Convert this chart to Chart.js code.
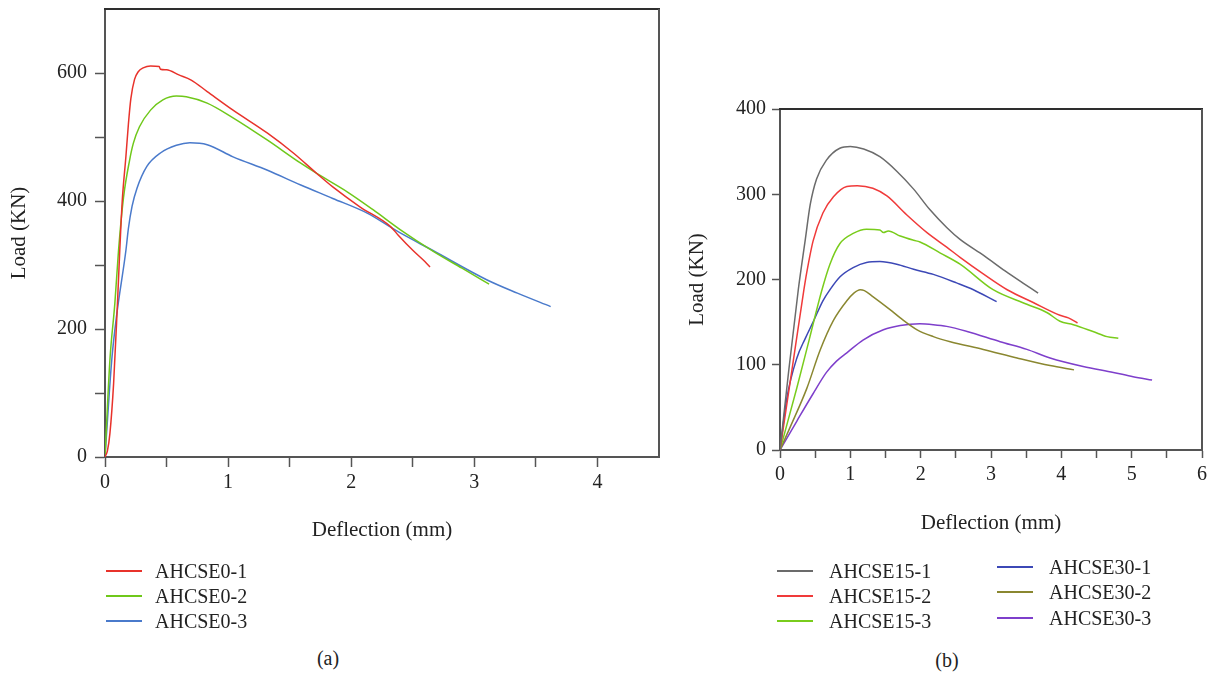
<!DOCTYPE html>
<html>
<head>
<meta charset="utf-8">
<script src="https://cdn.jsdelivr.net/npm/chart.js@4.4.1/dist/chart.umd.min.js"></script>
<style>
  html, body { margin: 0; padding: 0; background: #fff; }
  body { width: 1213px; height: 676px; position: relative; overflow: hidden;
         font-family: "Liberation Serif", "DejaVu Serif", serif; color: #222; }
  canvas { position: absolute; top: 0; }
  #chartA { left: 0; }
  #chartB { left: 680px; }
  .leg { position: absolute; height: 24px; line-height: 24px; font-size: 20px; white-space: nowrap; }
  .leg i { position: absolute; left: 0; top: 11px; height: 2px; }
  .leg span { position: absolute; top: 0; }
  .cap { position: absolute; font-size: 20px; transform: translate(-50%, -50%); }
</style>
</head>
<body>
<canvas id="chartA" width="680" height="560"></canvas>
<canvas id="chartB" width="533" height="560"></canvas>
<div id="legends"></div>
<div class="cap" style="left:328px;top:658px">(a)</div>
<div class="cap" style="left:947px;top:660px">(b)</div>
<script>
const FONT = '"Liberation Serif", "DejaVu Serif", serif';

// ---- Panel (a): specimens without steel fibre content ----
const namesA  = ['AHCSE0-1', 'AHCSE0-2', 'AHCSE0-3'];
const colorsA = ['#e8322b', '#6fc81a', '#4a7acb'];

const deflE0_1 = [0, 0.02, 0.04, 0.07, 0.10, 0.12, 0.14, 0.17, 0.19, 0.21, 0.24, 0.27, 0.31, 0.37, 0.44, 0.45, 0.50, 0.60, 0.70, 0.83, 1.04, 1.32, 1.53, 1.72, 1.85, 2.07, 2.32, 2.38, 2.50, 2.60, 2.64];
const loadE0_1 = [0, 10, 37, 115, 235, 323, 400, 470, 520, 560, 590, 602, 608, 611, 610, 606, 605, 597, 589, 571, 542, 506, 475, 443, 422, 391, 360, 347, 323, 305, 297];

const deflE0_2 = [0, 0.04, 0.08, 0.11, 0.15, 0.20, 0.23, 0.28, 0.37, 0.47, 0.58, 0.66, 0.83, 1.04, 1.32, 1.59, 1.72, 1.97, 2.18, 2.40, 2.67, 2.90, 3.12];
const loadE0_2 = [0, 152, 240, 323, 405, 464, 490, 516, 542, 558, 564, 563, 553, 530, 495, 459, 443, 414, 386, 355, 321, 295, 270];

const deflE0_3 = [0, 0.055, 0.095, 0.17, 0.19, 0.22, 0.26, 0.34, 0.45, 0.58, 0.69, 0.83, 1.04, 1.32, 1.59, 1.85, 2.13, 2.38, 2.66, 3.10, 3.35, 3.62];
const loadE0_3 = [0, 152, 222, 323, 357, 392, 420, 454, 475, 487, 491, 488, 469, 448, 425, 404, 381, 352, 323, 277, 256, 235];

// ---- Panel (b): specimens with 15% and 30% content ----
const namesB  = ['AHCSE15-1', 'AHCSE15-2', 'AHCSE15-3', 'AHCSE30-1', 'AHCSE30-2', 'AHCSE30-3'];
const colorsB = ['#6b6b6b', '#f03a3a', '#79cc1c', '#3c48b6', '#8a8730', '#7e3fcb'];

const deflE15_1 = [0, 0.12, 0.26, 0.36, 0.43, 0.52, 0.66, 0.85, 1.00, 1.19, 1.42, 1.66, 1.90, 2.13, 2.37, 2.56, 2.90, 3.20, 3.45, 3.67];
const loadE15_1 = [0, 90, 188, 247, 288, 318, 340, 354, 356, 353, 344, 327, 306, 282, 261, 247, 228, 210, 196, 184];

const deflE15_2 = [0, 0.17, 0.34, 0.38, 0.47, 0.61, 0.76, 0.95, 1.10, 1.32, 1.52, 1.80, 2.09, 2.37, 2.56, 2.90, 3.23, 3.60, 3.98, 4.10, 4.23];
const loadE15_2 = [0, 94, 188, 208, 245, 278, 297, 309, 310, 307, 298, 276, 255, 238, 226, 206, 188, 173, 158, 155, 149];

const deflE15_3 = [0, 0.24, 0.42, 0.59, 0.71, 0.85, 1.04, 1.23, 1.42, 1.47, 1.54, 1.71, 1.90, 1.99, 2.28, 2.56, 3.03, 3.51, 3.80, 3.98, 4.17, 4.45, 4.65, 4.81];
const loadE15_3 = [0, 73, 131, 186, 218, 242, 254, 259, 258, 255, 257, 251, 246, 244, 231, 218, 188, 171, 161, 151, 147, 139, 133, 131];

const deflE30_1 = [0, 0.10, 0.24, 0.36, 0.47, 0.61, 0.71, 0.85, 1.04, 1.23, 1.42, 1.66, 1.90, 2.18, 2.51, 2.75, 3.08];
const loadE30_1 = [0, 62, 108, 131, 150, 175, 188, 203, 214, 220, 221, 218, 212, 206, 196, 188, 174];

const deflE30_2 = [0, 0.14, 0.38, 0.57, 0.76, 0.95, 1.05, 1.14, 1.20, 1.32, 1.56, 1.71, 1.95, 2.18, 2.42, 2.89, 3.37, 3.84, 4.18];
const loadE30_2 = [0, 26, 72, 117, 152, 175, 184, 188, 187, 180, 165, 155, 141, 133, 127, 118, 108, 99, 94];

const deflE30_3 = [0, 0.24, 0.47, 0.66, 0.80, 0.95, 1.18, 1.47, 1.71, 1.99, 2.18, 2.37, 2.66, 3.13, 3.51, 3.84, 4.31, 4.74, 5.02, 5.29];
const loadE30_3 = [0, 34, 66, 91, 104, 114, 129, 141, 146, 148, 147, 145, 139, 127, 118, 108, 98, 91, 86, 82];

// Axis tick values
const xTicksA = { min: 0, max: 4.5, step: 0.5 };
const yTicksA = { min: 0, max: 700, step: 100 };
const xTicksB = { min: 0, max: 6, step: 0.5 };
const yTicksB = { min: 0, max: 400, step: 100 };

function toPoints(defl, load) {
  return defl.map((x, i) => ({ x: x, y: load[i] }));
}

function curve(label, color, defl, load) {
  return {
    label: label,
    data: toPoints(defl, load),
    borderColor: color,
    backgroundColor: color,
    borderWidth: 1.5,
    pointRadius: 0,
    fill: false,
    cubicInterpolationMode: 'monotone'
  };
}

// Closes the plot box on its top and right sides
const frame = {
  id: 'frame',
  afterDraw(chart, args, opts) {
    const { ctx, chartArea: { left, top, right, bottom } } = chart;
    ctx.save();
    ctx.lineWidth = 2;
    ctx.strokeStyle = opts.topColor;
    ctx.beginPath();
    ctx.moveTo(left - 1, top);
    ctx.lineTo(right + 1, top);
    ctx.stroke();
    ctx.strokeStyle = opts.rightColor;
    ctx.beginPath();
    ctx.moveTo(right, top);
    ctx.lineTo(right, bottom);
    ctx.stroke();
    ctx.restore();
  }
};

function buildOptions(cfg) {
  const axisGrey = '#555';
  return {
    responsive: false,
    animation: false,
    events: [],
    layout: { padding: cfg.padding },
    plugins: {
      legend: { display: false },
      tooltip: { enabled: false },
      frame: { topColor: '#2e2e2e', rightColor: axisGrey }
    },
    scales: {
      x: {
        type: 'linear',
        min: cfg.xt.min, max: cfg.xt.max,
        afterFit: s => { s.height = cfg.xHeight; s.paddingLeft = 0; s.paddingRight = 0; },
        border: { color: axisGrey, width: 2 },
        grid: {
          drawOnChartArea: false,
          tickLength: cfg.tick,
          tickWidth: 1.5,
          color: axisGrey,
          tickColor: c => (c.tick && cfg.xHide.includes(c.tick.value)) ? 'rgba(0,0,0,0)' : axisGrey
        },
        ticks: {
          stepSize: cfg.xt.step,
          autoSkip: false,
          maxRotation: 0,
          padding: cfg.xPad,
          color: '#222',
          font: { family: FONT, size: 20 },
          callback: v => (Number.isInteger(v) && !cfg.xHide.includes(v)) ? String(v) : ''
        },
        title: {
          display: true,
          text: 'Deflection (mm)',
          color: '#222',
          font: { family: FONT, size: 21 },
          padding: { top: 0, bottom: cfg.xTitlePad }
        }
      },
      y: {
        type: 'linear',
        min: cfg.yt.min, max: cfg.yt.max,
        afterFit: s => { s.width = cfg.yWidth; s.paddingTop = 0; s.paddingBottom = 0; },
        border: { color: axisGrey, width: 2 },
        grid: {
          drawOnChartArea: false,
          tickLength: cfg.tick,
          tickWidth: 1.5,
          color: axisGrey,
          tickColor: c => (c.tick && cfg.yHide.includes(c.tick.value)) ? 'rgba(0,0,0,0)' : axisGrey
        },
        ticks: {
          stepSize: cfg.yt.step,
          autoSkip: false,
          padding: cfg.yPad,
          color: '#222',
          font: { family: FONT, size: 20 },
          callback: v => (v % cfg.yLabelEvery === 0 && !cfg.yHide.includes(v)) ? String(v) : ''
        },
        title: {
          display: true,
          text: 'Load (KN)',
          color: '#222',
          font: { family: FONT, size: 21 },
          padding: { top: cfg.yTitlePad, bottom: 0 }
        }
      }
    }
  };
}

const dataA = [
  curve(namesA[0], colorsA[0], deflE0_1, loadE0_1),
  curve(namesA[1], colorsA[1], deflE0_2, loadE0_2),
  curve(namesA[2], colorsA[2], deflE0_3, loadE0_3)
];

const dataB = [
  curve(namesB[0], colorsB[0], deflE15_1, loadE15_1),
  curve(namesB[1], colorsB[1], deflE15_2, loadE15_2),
  curve(namesB[2], colorsB[2], deflE15_3, loadE15_3),
  curve(namesB[3], colorsB[3], deflE30_1, loadE30_1),
  curve(namesB[4], colorsB[4], deflE30_2, loadE30_2),
  curve(namesB[5], colorsB[5], deflE30_3, loadE30_3)
];

new Chart(document.getElementById('chartA'), {
  type: 'line',
  data: { datasets: dataA },
  plugins: [frame],
  options: buildOptions({
    padding: { left: 0, right: 21, top: 9, bottom: 0 },
    xt: xTicksA, yt: yTicksA,
    xHeight: 103, yWidth: 105,
    tick: 10, xPad: 4, yPad: 8,
    xTitlePad: 17, yTitlePad: 7,
    xHide: [4.5], yHide: [700], yLabelEvery: 200
  })
});

new Chart(document.getElementById('chartB'), {
  type: 'line',
  data: { datasets: dataB },
  plugins: [frame],
  options: buildOptions({
    padding: { left: 0, right: 11, top: 109, bottom: 0 },
    xt: xTicksB, yt: yTicksB,
    xHeight: 110, yWidth: 100,
    tick: 8, xPad: 5, yPad: 6,
    xTitlePad: 24, yTitlePad: 5,
    xHide: [], yHide: [], yLabelEvery: 100
  })
});

// Legends below each panel, built from the same names and colours
function addLegend(names, colors, lineX, textX, rows) {
  const host = document.getElementById('legends');
  names.forEach((name, i) => {
    const item = document.createElement('div');
    item.className = 'leg';
    item.style.left = lineX + 'px';
    item.style.top = (rows[i] - 12) + 'px';
    const line = document.createElement('i');
    line.style.width = '36px';
    line.style.background = colors[i];
    const text = document.createElement('span');
    text.style.left = (textX - lineX) + 'px';
    text.textContent = name;
    item.appendChild(line);
    item.appendChild(text);
    host.appendChild(item);
  });
}

addLegend(namesA, colorsA, 106, 155, [571, 596, 621]);
addLegend(namesB.slice(0, 3), colorsB.slice(0, 3), 777, 829, [571, 596, 621]);
addLegend(namesB.slice(3), colorsB.slice(3), 997, 1049, [567, 592, 618]);
</script>
</body>
</html>
